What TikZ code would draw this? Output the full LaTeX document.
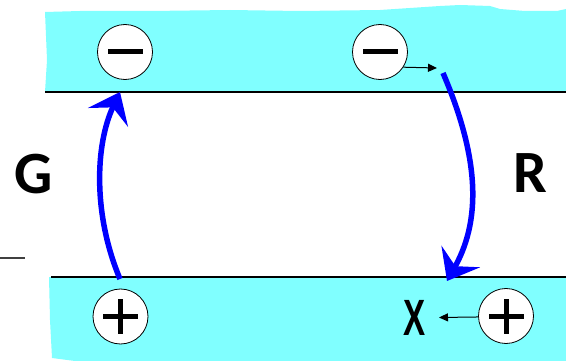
\documentclass[tikz,border=0pt]{standalone}
\usepackage{fontspec}
\setmainfont{Carlito}
\newfontfamily\xfont{Liberation Sans}
\usetikzlibrary{arrows.meta}
\definecolor{bandcyan}{HTML}{80FFFF}
\definecolor{arrowblue}{HTML}{0000FF}
\begin{document}
\begin{tikzpicture}[x=1pt,y=-1pt,
  charge/.style={circle, draw=black, line width=0.8pt, fill=white, minimum size=55pt, inner sep=0pt},
  minuscharge/.style={charge, path picture={\fill[black] ([xshift=-17.5pt,yshift=-2.5pt]path picture bounding box.center) rectangle ++(35pt,5pt);}},
  pluscharge/.style={charge, path picture={
      \fill[black] ([xshift=-17.5pt,yshift=-2.5pt]path picture bounding box.center) rectangle ++(35pt,5pt);
      \fill[black] ([xshift=-2.5pt,yshift=-17.5pt]path picture bounding box.center) rectangle ++(5pt,35pt);}},
  band/.style={fill=bandcyan, draw=none},
  edgeline/.style={line width=1.6pt, black},
  transfer/.style={line width=5.5pt, arrowblue, -{Stealth[length=28pt,width=44pt,inset=11pt]}},
  shiftarrow/.style={line width=1pt, -{Triangle[length=9pt,width=8pt]}},
  biglabel/.style={font=\fontsize{60}{60}\selectfont\bfseries, inner sep=0pt}
]
\useasboundingbox (0,0) rectangle (566,361);
% bands
\fill[band] (45,12) -- (80,11) -- (150,11) -- (230,10) -- (300,11) -- (380,10) -- (440,6) -- (460,5) -- (490,6) -- (500,9) -- (525,11) -- (557,11) -- (566,9) -- (566,92) -- (45,92) -- (47,60) -- cycle;
\fill[band] (49,277) -- (566,277) -- (566,361) -- (75,361) -- (52,358) -- (50,320) -- cycle;
\draw[edgeline] (45,92) -- (566,92);
\draw[edgeline] (51,277) -- (566,277);
% stray dash
\draw[line width=2.5pt, black!75] (0,258) -- (25,258);
% charges
\node[minuscharge] (minusL) at (125,52) {};
\node[minuscharge] (minusR) at (380,52) {};
\node[pluscharge] (plusL) at (120.5,316.5) {};
\node[pluscharge] (plusR) at (506,316) {};
% labels
\node[biglabel] (G) at (34,174) {G};
\node[biglabel] (R) at (530,173) {R};
\node[inner sep=0pt, xscale=0.65, font=\xfont\fontsize{51}{51}\selectfont\bfseries] (X) at (415,318) {X};
% small shifts
\coordinate (mtip) at (437,68);
\coordinate (xtip) at (439,317.5);
\draw[shiftarrow] (minusR.-33) -- (mtip);
\draw[shiftarrow] (plusR.182) -- (xtip);
% transitions
\coordinate (gS) at (120,279);
\coordinate (gE) at (120,92);
\draw[transfer] (gS) .. controls (93,215) and (95,145) .. (gE);
\coordinate (rS) at (443,73);
\coordinate (rE) at (447,281);
\draw[transfer] (rS) .. controls (476,150) and (484,215) .. (rE);
\end{tikzpicture}
\end{document}
